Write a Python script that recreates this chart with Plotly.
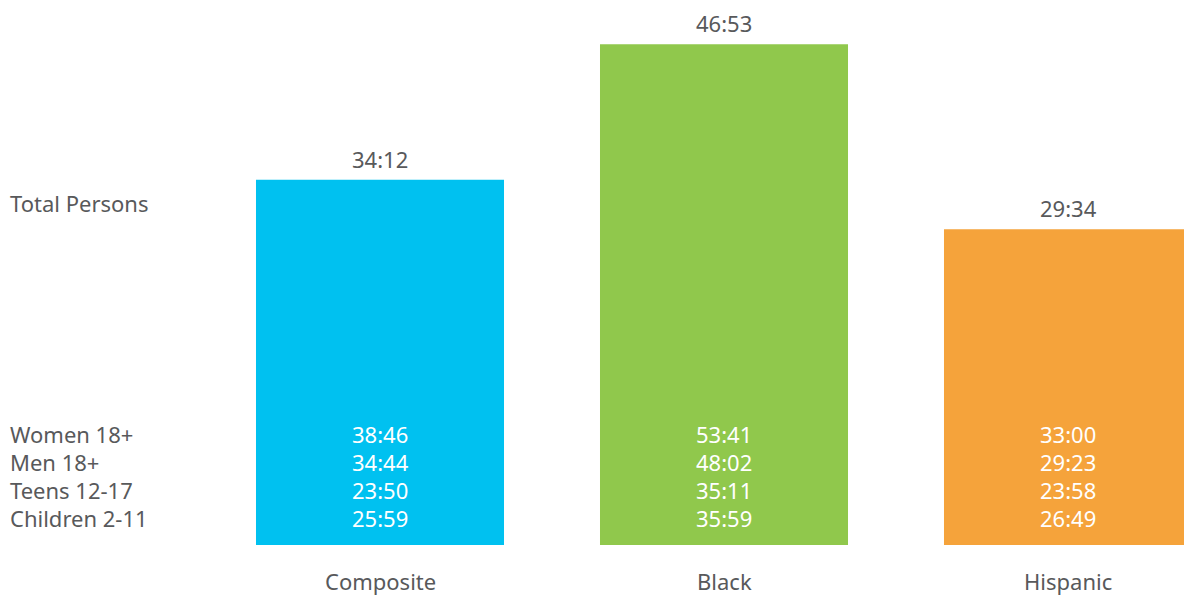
import plotly.graph_objects as go

# Average weekly time spent (mm:ss) by audience group
groups = ["Composite", "Black", "Hispanic"]
total_persons = ["34:12", "46:53", "29:34"]
demo_labels = ["Women 18+", "Men 18+", "Teens 12-17", "Children 2-11"]
demo_values = {
    "Composite": ["38:46", "34:44", "23:50", "25:59"],
    "Black": ["53:41", "48:02", "35:11", "35:59"],
    "Hispanic": ["33:00", "29:23", "23:58", "26:49"],
}
bar_colors = ["#00c1f0", "#90c84c", "#f5a33b"]


def to_minutes(t):
    m, s = t.split(":")
    return int(m) + int(s) / 60


W, H = 1184, 596
plot_h = 545
TEXT = "#58595b"
FONT = "Noto Sans"
FS = 22

x_pos = list(range(len(groups)))
heights = [to_minutes(t) for t in total_persons]

fig = go.Figure(
    go.Bar(
        x=x_pos,
        y=heights,
        width=0.721,
        marker=dict(color=bar_colors, line=dict(width=0)),
        hoverinfo="skip",
    )
)

annotations = []
# Total value above each bar and group name below
for x, v, t, g in zip(x_pos, heights, total_persons, groups):
    annotations.append(dict(x=x, y=v, xref="x", yref="y", text=t, showarrow=False,
                            yanchor="middle", yshift=21,
                            font=dict(size=FS, color=TEXT, family=FONT)))
    annotations.append(dict(x=x, y=0, xref="x", yref="y", text=g, showarrow=False,
                            yanchor="middle", yshift=-36, borderpad=0,
                            font=dict(size=FS, color=TEXT, family=FONT)))

# Row labels on the left
annotations.append(dict(x=8 / W, y=(plot_h - 203) / plot_h, xref="paper", yref="paper",
                        text="Total Persons", showarrow=False, xanchor="left", yanchor="middle",
                        font=dict(size=FS, color=TEXT, family=FONT)))
row_py = [434, 462, 490, 518]
for lbl, py in zip(demo_labels, row_py):
    annotations.append(dict(x=8 / W, y=(plot_h - py) / plot_h, xref="paper", yref="paper",
                            text=lbl, showarrow=False, xanchor="left", yanchor="middle",
                            font=dict(size=FS, color=TEXT, family=FONT)))

# Demographic values inside each bar
for x, g in zip(x_pos, groups):
    for val, py in zip(demo_values[g], row_py):
        annotations.append(dict(x=x, y=(plot_h - py) / plot_h, xref="x", yref="paper",
                                text=val, showarrow=False, yanchor="middle",
                                font=dict(size=FS, color="#ffffff", family=FONT)))

fig.update_layout(
    width=W,
    height=H,
    margin=dict(l=0, r=0, t=0, b=H - plot_h),
    paper_bgcolor="white",
    plot_bgcolor="white",
    showlegend=False,
    xaxis=dict(range=[-380 / 344, (W - 380) / 344], visible=False, fixedrange=True),
    yaxis=dict(range=[0, plot_h / 10.68], visible=False, fixedrange=True),
    annotations=annotations,
)

fig.write_html("out.html")
